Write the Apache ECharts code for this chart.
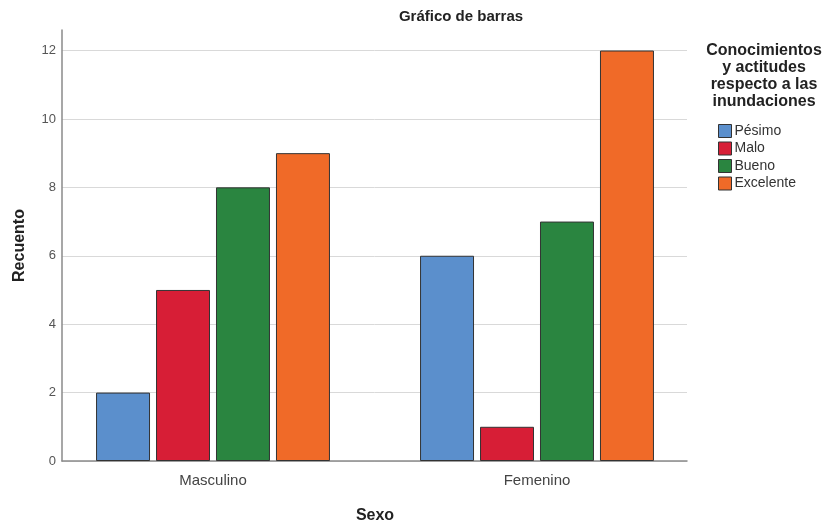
<!DOCTYPE html>
<html><head><meta charset="utf-8">
<script src="https://cdn.jsdelivr.net/npm/echarts@6/dist/echarts.min.js"></script>
<style>html,body{margin:0;padding:0;background:#fff}#c{width:825px;height:525px}</style>
</head><body><div id="c"></div>
<script>
const categories = ['Masculino', 'Femenino'];
const seriesNames = ['Pésimo', 'Malo', 'Bueno', 'Excelente'];
const pesimo = [2, 6];
const malo = [5, 1];
const bueno = [8, 7];
const excelente = [9, 12];
const yTickLabels = [0, 2, 4, 6, 8, 10, 12];
const colors = ['#5b8fcc', '#d71e36', '#2a8540', '#f06a28'];
const values = [pesimo, malo, bueno, excelente];

const FONT = 'Arial, "Liberation Sans", sans-serif';
const chart = echarts.init(document.getElementById('c'), null, {renderer: 'canvas'});
const yMax = 12.6;

chart.setOption({
  animation: false,
  backgroundColor: '#ffffff',
  textStyle: {fontFamily: FONT},
  title: [
    {text: 'Gráfico de barras', left: 456, top: 4, textAlign: 'center',
     textStyle: {fontFamily: FONT, fontSize: 15, fontWeight: 'bold', color: '#222'}},
    {text: 'Conocimientos\ny actitudes\nrespecto a las\ninundaciones', left: 759, top: 37, textAlign: 'center',
     textStyle: {fontFamily: FONT, fontSize: 16, fontWeight: 'bold', color: '#222', lineHeight: 17}}
  ],
  legend: {
    data: seriesNames, orient: 'vertical', left: 713, top: 119,
    itemWidth: 13, itemHeight: 13, itemGap: 3.5, icon: 'rect',
    textStyle: {fontFamily: FONT, fontSize: 14, lineHeight: 14, color: '#333', padding: [0, 0, 0, -2]},
    itemStyle: {borderColor: '#333', borderWidth: 1}
  },
  grid: [
    {left: 62, right: 138, top: 30, bottom: 64, outerBoundsMode: 'none', containLabel: false},
    {left: 51, width: 648, top: 30, bottom: 64, outerBoundsMode: 'none', containLabel: false}
  ],
  xAxis: [
    {type: 'category', gridIndex: 0, data: categories,
     axisLine: {show: true, lineStyle: {color: '#8a8a8a', width: 1.5}},
     axisTick: {show: false}, axisLabel: {show: false}, splitLine: {show: false}},
    {type: 'category', gridIndex: 1, data: categories,
     axisLine: {show: false}, axisTick: {show: false},
     axisLabel: {show: true, fontFamily: FONT, fontSize: 15, color: '#444', margin: 12},
     name: 'Sexo', nameLocation: 'middle', nameGap: 47,
     nameTextStyle: {fontFamily: FONT, fontSize: 16, fontWeight: 'bold', color: '#222'}}
  ],
  yAxis: [
    {type: 'value', gridIndex: 0, min: 0, max: yMax, interval: 2,
     axisLine: {show: true, lineStyle: {color: '#8a8a8a', width: 1.5}},
     axisTick: {show: false},
     axisLabel: {fontFamily: FONT, fontSize: 13, color: '#555', margin: 6,
       formatter: v => yTickLabels.indexOf(v) >= 0 ? String(v) : ''},
     splitLine: {show: true, showMaxLine: false, lineStyle: {color: '#d9d9d9', width: 1}},
     name: 'Recuento', nameLocation: 'middle', nameGap: 34,
     nameTextStyle: {fontFamily: FONT, fontSize: 16, fontWeight: 'bold', color: '#222'}},
    {type: 'value', gridIndex: 1, min: 0, max: yMax, interval: 2, show: false}
  ],
  series: seriesNames.map((name, i) => ({
    name: name, type: 'bar', xAxisIndex: 1, yAxisIndex: 1,
    data: values[i],
    barCategoryGap: '27.8%', barGap: '11.1%',
    itemStyle: {color: colors[i], borderColor: '#333', borderWidth: 1}
  }))
});
</script></body></html>
